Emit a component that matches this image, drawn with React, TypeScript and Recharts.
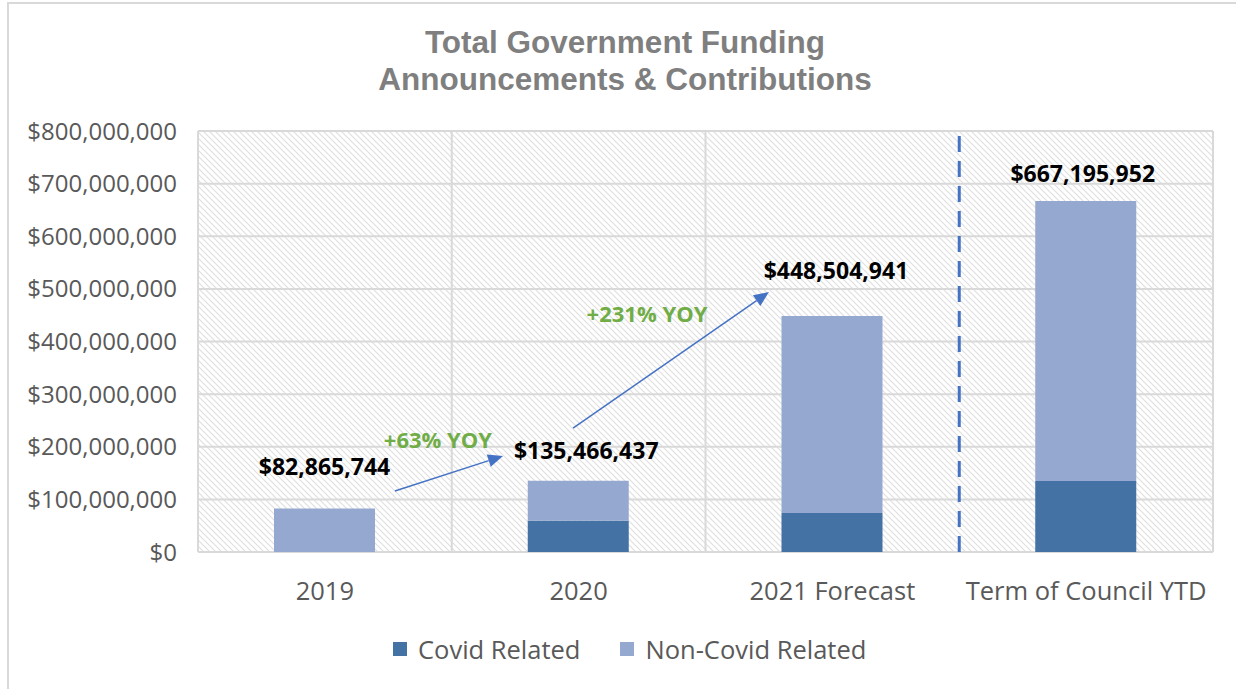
import React from "react";
import { BarChart, Bar, XAxis, YAxis, CartesianGrid, ReferenceLine, LabelList } from "recharts";

const categories = ["2019", "2020", "2021 Forecast", "Term of Council YTD"];
const covidRelated = [0, 59_500_000, 74_000_000, 135_000_000];
const nonCovidRelated = [82_865_744, 75_966_437, 374_504_941, 532_195_952];
const seriesNames = ["Covid Related", "Non-Covid Related"];
const yTicks = [0, 100_000_000, 200_000_000, 300_000_000, 400_000_000, 500_000_000, 600_000_000, 700_000_000, 800_000_000];

// YOY arrows, in data space
const yoyFrom = ["2019", "2020"];
const yoyTo = ["2020", "2021 Forecast"];
const yoyStartValue = [115_900_000, 235_600_000];
const yoyEndValue = [182_400_000, 494_000_000];
const yoyText = ["+63% YOY", "+231% YOY"];

const COVID = "#4472a4";
const NON_COVID = "#95a9d0";
const GRID = "#d9d9d9";
const AXIS_TEXT = "#595959";
const ARROW = "#4472c4";
const GREEN = "#70ad47";
const FONT = "'Open Sans', sans-serif";

// how far along the category-to-category segment each arrow starts / ends
const ARROW_T = [
  [0.276, 0.702],
  [-0.022, 0.75],
];
const ARROW_TEXT_NUDGE = [
  [-11, -35],
  [-24, -47],
];
// total labels were placed by hand in the original
const LABEL_NUDGE = [
  [0, 42],
  [8, 31],
  [4, 46],
  [-3, 28],
];

const data = categories.map((name, i) => ({
  name,
  covid: covidRelated[i],
  nonCovid: nonCovidRelated[i],
}));

const money = (v: number) => "$" + v.toLocaleString("en-US");

function makeArrow(i: number) {
  return (props: any) => {
    const { x1, y1, x2, y2 } = props;
    const [ts, te] = ARROW_T[i];
    const sx = x1 + ts * (x2 - x1);
    const ex = x1 + te * (x2 - x1);
    const sy = y1;
    const ey = y2;
    const ang = Math.atan2(ey - sy, ex - sx);
    const len = 15;
    const half = 6.5;
    const bx = ex - len * Math.cos(ang);
    const by = ey - len * Math.sin(ang);
    const px = -Math.sin(ang) * half;
    const py = Math.cos(ang) * half;
    const [dx, dy] = ARROW_TEXT_NUDGE[i];
    return (
      <g>
        <line x1={sx} y1={sy} x2={bx} y2={by} stroke={ARROW} strokeWidth={1.5} />
        <polygon points={`${ex},${ey} ${bx + px},${by + py} ${bx - px},${by - py}`} fill={ARROW} />
        <text
          x={(sx + ex) / 2 + dx}
          y={(sy + ey) / 2 + dy}
          textAnchor="middle"
          dominantBaseline="central"
          fill={GREEN}
          fontFamily={FONT}
          fontWeight={700}
          fontSize={22}
        >
          {yoyText[i]}
        </text>
      </g>
    );
  };
}

function TotalLabel(props: any) {
  const { x, y, width, index } = props;
  const total = covidRelated[index] + nonCovidRelated[index];
  const [nx, ny] = LABEL_NUDGE[index];
  return (
    <text
      x={x + width / 2 + nx}
      y={y - ny}
      textAnchor="middle"
      dominantBaseline="central"
      fill="#000"
      fontFamily={FONT}
      fontWeight={700}
      fontSize={23}
    >
      {money(total)}
    </text>
  );
}

export default function App() {
  return (
    <div
      style={{
        position: "absolute",
        left: 0,
        top: 0,
        width: 1236,
        height: 689,
        background: "#fff",
        overflow: "hidden",
      }}
    >
      <div
        style={{
          position: "absolute",
          left: 7,
          top: 2,
          width: 1260,
          height: 720,
          border: `2px solid ${GRID}`,
        }}
      />
      <div
        style={{
          position: "absolute",
          left: 0,
          top: 24,
          width: 1250,
          textAlign: "center",
          fontFamily: "'Liberation Sans', Arial, sans-serif",
          fontWeight: 700,
          fontSize: 31.5,
          lineHeight: "37px",
          color: "#7f7f7f",
        }}
      >
        <div>Total Government Funding</div>
        <div>Announcements &amp; Contributions</div>
      </div>

      <div style={{ position: "absolute", left: 0, top: 0 }}>
        <BarChart
          width={1236}
          height={689}
          data={data}
          margin={{ top: 131, right: 23, bottom: 107, left: 0 }}
        >
          <defs>
            <pattern id="hatch" patternUnits="userSpaceOnUse" width={6} height={6}>
              <rect width={6} height={6} fill="#fff" />
              <path d="M0,0 L6,6 M-1,5 L1,7 M5,-1 L7,1" stroke="#e0e0e0" strokeWidth={1.2} />
            </pattern>
          </defs>
          <CartesianGrid
            vertical={false}
            stroke={GRID}
            strokeWidth={2}
            fill="url(#hatch)"
            fillOpacity={1}
          />
          <XAxis
            dataKey="name"
            height={30}
            axisLine={false}
            tickLine={false}
            tick={{ fill: AXIS_TEXT, fontSize: 25.5, fontFamily: FONT }}
            tickMargin={24}
          />
          <YAxis
            width={198}
            domain={[0, 800_000_000]}
            ticks={yTicks}
            axisLine={false}
            tickLine={false}
            tick={{ fill: AXIS_TEXT, fontSize: 24, fontFamily: FONT }}
            tickMargin={15}
            tickFormatter={money}
            interval={0}
          />
          {categories.slice(1, 3).map((c) => (
            <ReferenceLine key={c} x={c} position="start" stroke={GRID} strokeWidth={2} />
          ))}
          <ReferenceLine x={categories[0]} position="start" stroke={GRID} strokeWidth={2} />
          <ReferenceLine x={categories[3]} position="end" stroke={GRID} strokeWidth={2} />
          <ReferenceLine
            x={categories[3]}
            position="start"
            stroke={ARROW}
            strokeWidth={3}
            strokeDasharray="16 9"
          />
          <Bar dataKey="covid" name={seriesNames[0]} stackId="a" fill={COVID} barSize={101} isAnimationActive={false} />
          <Bar dataKey="nonCovid" name={seriesNames[1]} stackId="a" fill={NON_COVID} barSize={101} isAnimationActive={false}>
            <LabelList dataKey="nonCovid" content={TotalLabel} />
          </Bar>
          {yoyText.map((t, i) => (
            <ReferenceLine
              key={t}
              segment={[
                { x: yoyFrom[i], y: yoyStartValue[i] },
                { x: yoyTo[i], y: yoyEndValue[i] },
              ]}
              shape={makeArrow(i)}
              ifOverflow="visible"
            />
          ))}
        </BarChart>
      </div>

      <div
        style={{
          position: "absolute",
          left: 393,
          top: 632,
          display: "flex",
          alignItems: "center",
          gap: 40,
          fontFamily: FONT,
          fontSize: 25.5,
          color: AXIS_TEXT,
          whiteSpace: "nowrap",
        }}
      >
        {seriesNames.map((n, i) => (
          <div key={n} style={{ display: "flex", alignItems: "center" }}>
            <span
              style={{
                display: "inline-block",
                width: 14,
                height: 14,
                background: i === 0 ? COVID : NON_COVID,
                marginRight: 11,
              }}
            />
            <span>{n}</span>
          </div>
        ))}
      </div>
    </div>
  );
}
